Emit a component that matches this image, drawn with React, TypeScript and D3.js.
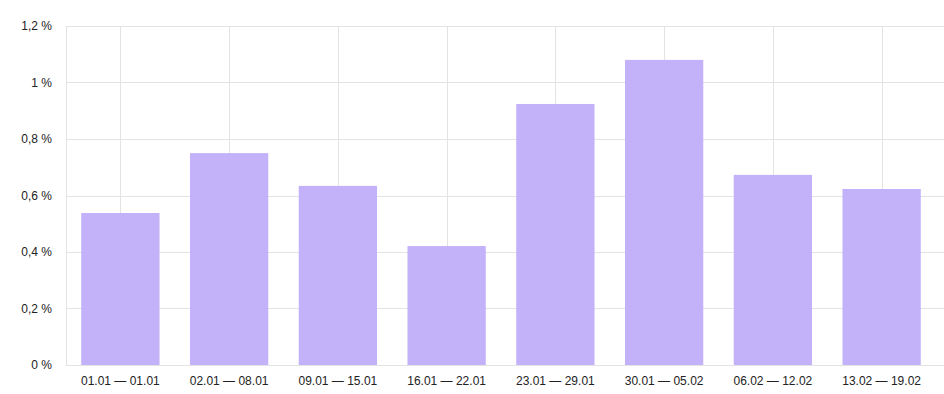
import { useEffect, useRef } from "react";
import * as d3 from "d3";

const categories = [
  "01.01 — 01.01",
  "02.01 — 08.01",
  "09.01 — 15.01",
  "16.01 — 22.01",
  "23.01 — 29.01",
  "30.01 — 05.02",
  "06.02 — 12.02",
  "13.02 — 19.02",
];
const values = [0.538, 0.75, 0.634, 0.421, 0.924, 1.08, 0.673, 0.623];
const yTicks = [0, 0.2, 0.4, 0.6, 0.8, 1, 1.2];

const W = 944,
  H = 394;
const margin = { top: 26, right: 8, bottom: 29, left: 66 };

const App = () => {
  const ref = useRef<SVGSVGElement | null>(null);

  useEffect(() => {
    const svg = d3.select(ref.current);
    svg.selectAll("*").remove();

    const x = d3
      .scaleBand()
      .domain(categories)
      .range([margin.left, W - margin.right])
      .paddingInner(0.28)
      .paddingOuter(0.14);

    const y = d3
      .scaleLinear()
      .domain([0, 1.2])
      .range([H - margin.bottom, margin.top]);

    const fmt = (d: number) => String(d).replace(".", ",") + " %";

    // horizontal gridlines
    svg
      .append("g")
      .selectAll("line")
      .data(yTicks)
      .join("line")
      .attr("x1", margin.left)
      .attr("x2", W)
      .attr("y1", (d) => Math.round(y(d)) + 0.5)
      .attr("y2", (d) => Math.round(y(d)) + 0.5)
      .attr("stroke", "#e3e3e3");

    // vertical gridlines (left edge + bar centers)
    const vx = [margin.left, ...categories.map((c) => (x(c) as number) + x.bandwidth() / 2)];
    svg
      .append("g")
      .selectAll("line")
      .data(vx)
      .join("line")
      .attr("x1", (d) => Math.round(d) + 0.5)
      .attr("x2", (d) => Math.round(d) + 0.5)
      .attr("y1", y(1.2))
      .attr("y2", y(0))
      .attr("stroke", "#e3e3e3");

    // bars
    svg
      .append("g")
      .selectAll("rect")
      .data(values)
      .join("rect")
      .attr("x", (_, i) => x(categories[i]) as number)
      .attr("width", x.bandwidth())
      .attr("y", (d) => y(d))
      .attr("height", (d) => y(0) - y(d))
      .attr("fill", "#c3b1fa");

    // y labels
    svg
      .append("g")
      .selectAll("text")
      .data(yTicks)
      .join("text")
      .attr("x", 52)
      .attr("y", (d) => y(d) + 4)
      .attr("text-anchor", "end")
      .attr("font-family", "'Liberation Sans', Arial, sans-serif")
      .attr("font-size", 12)
      .attr("fill", "#222")
      .text(fmt);

    // x labels
    svg
      .append("g")
      .selectAll("text")
      .data(categories)
      .join("text")
      .attr("x", (d) => (x(d) as number) + x.bandwidth() / 2)
      .attr("y", y(0) + 20)
      .attr("text-anchor", "middle")
      .attr("font-family", "'Liberation Sans', Arial, sans-serif")
      .attr("font-size", 12)
      .attr("fill", "#222")
      .text((d) => d);
  }, []);

  return <svg ref={ref} width={W} height={H} style={{ display: "block", position: "absolute", left: 0, top: 0 }} />;
};

export default App;
